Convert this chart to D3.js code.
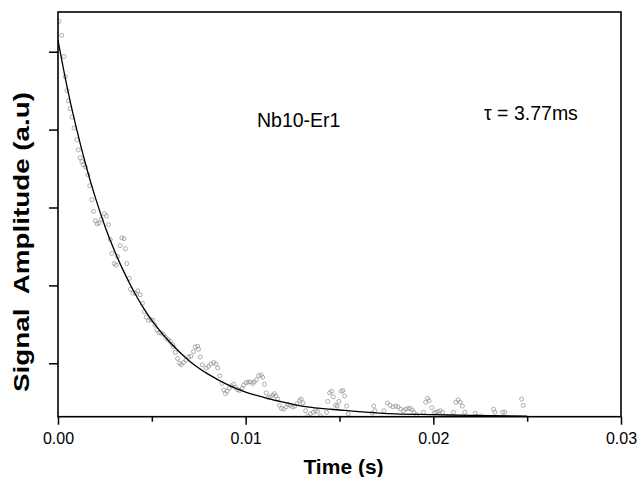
<!DOCTYPE html>
<html>
<head>
<meta charset="utf-8">
<script src="https://cdn.jsdelivr.net/npm/d3@7"></script>
<style>
  body { margin: 0; background: #fff; }
  text { font-family: "Liberation Sans", Arial, Helvetica, sans-serif; }
</style>
</head>
<body>
<div class="chart"></div>
<script>
const width = 637, height = 477;
const margin = {top: 12, right: 16, bottom: 60.3, left: 58};

// measured decay (time in ms, signal in a.u.)
const timeMs = [
  0.05, 0.20, 0.32, 0.39, 0.48, 0.56, 0.64, 0.75, 0.85, 1.00,
  1.08, 1.18, 1.27, 1.35, 1.46, 1.59, 1.69, 1.80, 1.89, 1.99,
  2.08, 2.19, 2.30, 2.47, 2.58, 2.69, 2.78, 2.87, 2.99, 3.10,
  3.18, 3.31, 3.40, 3.52, 3.59, 3.67, 3.80, 3.86, 3.99, 4.13,
  4.25, 4.38, 4.50, 4.59, 4.70, 4.82, 4.95, 5.06, 5.16, 5.27,
  5.38, 5.48, 5.62, 5.75, 5.86, 5.98, 6.10, 6.16, 6.25, 6.37,
  6.48, 6.57, 6.69, 6.82, 6.96, 7.08, 7.22, 7.31, 7.44, 7.49,
  7.58, 7.69, 7.90, 8.02, 8.15, 8.29, 8.42, 8.51, 8.62, 8.74,
  8.83, 8.92, 9.01, 9.13, 9.24, 9.36, 9.45, 9.57, 9.68, 9.81,
  9.89, 10.02, 10.13, 10.25, 10.37, 10.46, 10.57, 10.69, 10.82, 10.91,
  11.00, 11.09, 11.20, 11.32, 11.44, 11.53, 11.62, 11.71, 11.80, 11.91,
  12.03, 12.16, 12.26, 12.39, 12.51, 12.62, 12.74, 12.87, 12.96, 13.06,
  13.19, 13.31, 13.45, 13.60, 13.72, 13.84, 13.99, 14.31, 14.38, 14.47,
  14.58, 14.67, 14.79, 14.88, 14.97, 15.09, 15.18, 15.27, 15.38, 15.47,
  16.75, 16.83, 16.89, 17.37, 17.55, 17.69, 17.85, 17.99, 18.12, 18.26,
  18.40, 18.53, 18.65, 18.76, 18.88, 18.97, 19.10, 19.47, 19.59, 19.69,
  19.77, 19.92, 20.04, 20.13, 20.25, 20.36, 20.49, 21.07, 21.20, 21.32,
  21.43, 21.55, 21.68, 22.23, 22.32, 22.53, 23.21, 23.28, 23.69, 23.81,
  24.70, 24.79
];
const signal = [
  5.39, 5.21, 4.94, 4.68, 4.50, 4.37, 4.27, 4.16, 4.02, 3.87,
  3.74, 3.64, 3.59, 3.55, 3.52, 3.42, 3.28, 3.10, 2.95, 2.83,
  2.79, 2.80, 2.85, 2.92, 2.89, 2.78, 2.59, 2.41, 2.28, 2.26,
  2.37, 2.51, 2.61, 2.60, 2.47, 2.28, 2.09, 1.95, 1.90, 1.90,
  1.93, 1.88, 1.77, 1.66, 1.59, 1.55, 1.56, 1.55, 1.49, 1.43,
  1.39, 1.39, 1.37, 1.33, 1.30, 1.28, 1.24, 1.21, 1.14, 1.06,
  1.00, 0.98, 1.01, 1.04, 1.08, 1.09, 1.15, 1.21, 1.22, 1.18,
  1.08, 0.98, 0.94, 0.96, 0.99, 1.01, 0.99, 0.94, 0.84, 0.74,
  0.66, 0.61, 0.64, 0.68, 0.71, 0.73, 0.69, 0.66, 0.65, 0.68,
  0.72, 0.75, 0.76, 0.76, 0.74, 0.76, 0.79, 0.84, 0.85, 0.82,
  0.73, 0.62, 0.56, 0.57, 0.59, 0.61, 0.58, 0.54, 0.46, 0.42,
  0.41, 0.44, 0.47, 0.46, 0.44, 0.45, 0.48, 0.52, 0.54, 0.49,
  0.39, 0.32, 0.35, 0.37, 0.39, 0.38, 0.32, 0.37, 0.51, 0.62,
  0.64, 0.57, 0.46, 0.45, 0.51, 0.64, 0.65, 0.58, 0.45, 0.35,
  0.36, 0.45, 0.39, 0.39, 0.49, 0.46, 0.44, 0.45, 0.44, 0.41,
  0.39, 0.41, 0.42, 0.42, 0.40, 0.37, 0.34, 0.37, 0.50, 0.55,
  0.52, 0.43, 0.36, 0.37, 0.38, 0.39, 0.37, 0.37, 0.50, 0.53,
  0.50, 0.45, 0.37, 0.36, 0.32, 0.32, 0.41, 0.37, 0.37, 0.37,
  0.54, 0.46
];

// exponential fit line
const fitTimeMs = [0, 0.5, 1, 1.5, 2, 2.5, 3, 3.5, 4, 4.5, 5, 6, 7, 8, 9, 10,
                   11, 12, 13, 14, 15, 16, 18, 20, 22, 25];
const fitSignal = [5.15, 4.53, 4.00, 3.53, 3.12, 2.76, 2.45, 2.18, 1.94, 1.73,
                   1.55, 1.26, 1.03, 0.86, 0.73, 0.63, 0.56, 0.50, 0.45, 0.42,
                   0.40, 0.38, 0.35, 0.34, 0.33, 0.32];

const xTicks = [0, 0.01, 0.02, 0.03];
const xMinorTicks = [0.005, 0.015, 0.025];
const yTicks = [1, 2, 3, 4, 5];

const sampleName = "Nb10-Er1";
const tauLabel = "\u03c4 = 3.77ms";

const svg = d3.select(".chart")
    .append("svg")
    .attr("width", width)
    .attr("height", height);

const x = d3.scaleLinear()
    .domain([0, 0.03])
    .range([margin.left, width - margin.right]);
const y = d3.scaleLinear()
    .domain([0.314, 5.51])
    .range([height - margin.bottom, margin.top]);

svg.append("clipPath").attr("id", "plot-clip")
    .append("rect")
    .attr("x", margin.left).attr("y", margin.top)
    .attr("width", width - margin.left - margin.right)
    .attr("height", height - margin.top - margin.bottom);

const points = timeMs.map((t, i) => ({t: t / 1000, v: signal[i]}));
const fit = fitTimeMs.map((t, i) => ({t: t / 1000, v: fitSignal[i]}));

svg.append("g")
    .attr("clip-path", "url(#plot-clip)")
    .selectAll("circle")
    .data(points)
    .join("circle")
    .attr("cx", d => x(d.t))
    .attr("cy", d => y(d.v))
    .attr("r", 2)
    .attr("fill", "none")
    .attr("stroke", "#8c8c8c")
    .attr("stroke-width", 0.7);

const line = d3.line()
    .x(d => x(d.t))
    .y(d => y(d.v))
    .curve(d3.curveMonotoneX);

svg.append("path")
    .datum(fit)
    .attr("d", line)
    .attr("fill", "none")
    .attr("stroke", "#000")
    .attr("stroke-width", 1.3);

// axes
const xAxis = svg.append("g")
    .attr("transform", `translate(0,${height - margin.bottom})`)
    .call(d3.axisBottom(x).tickValues(xTicks).tickSize(8).tickSizeOuter(0)
        .tickFormat(d3.format(".2f")));
xAxis.select(".domain").remove();
xAxis.selectAll("line").attr("stroke-width", 1.5);
xAxis.selectAll("text")
    .attr("font-size", 16)
    .attr("dy", "1.05em")
    .attr("fill", "#000");

const xMinor = svg.append("g")
    .attr("transform", `translate(0,${height - margin.bottom})`)
    .call(d3.axisBottom(x).tickValues(xMinorTicks).tickSize(5).tickFormat(""));
xMinor.select(".domain").remove();
xMinor.selectAll("line").attr("stroke-width", 1.5);

const yAxis = svg.append("g")
    .attr("transform", `translate(${margin.left},0)`)
    .call(d3.axisLeft(y).tickValues(yTicks).tickSize(9).tickFormat(""));
yAxis.select(".domain").remove();
yAxis.selectAll("line").attr("stroke-width", 1.5);

// frame
svg.append("rect")
    .attr("x", margin.left)
    .attr("y", margin.top)
    .attr("width", width - margin.left - margin.right)
    .attr("height", height - margin.top - margin.bottom)
    .attr("fill", "none")
    .attr("stroke", "#000")
    .attr("stroke-width", 1.6);

// titles
svg.append("text")
    .attr("x", (margin.left + width - margin.right) / 2 + 4)
    .attr("y", 474)
    .attr("text-anchor", "middle")
    .attr("font-size", 21)
    .attr("font-weight", "bold")
    .text("Time (s)");

svg.append("text")
    .attr("transform", "translate(29,242) rotate(-90)")
    .attr("text-anchor", "middle")
    .attr("font-size", 22)
    .attr("font-weight", "bold")
    .attr("textLength", 300)
    .attr("lengthAdjust", "spacingAndGlyphs")
    .style("white-space", "pre")
    .text("Signal  Amplitude (a.u)");

svg.append("text")
    .attr("x", 257)
    .attr("y", 126.5)
    .attr("font-size", 19.5)
    .text(sampleName);

svg.append("text")
    .attr("x", 484)
    .attr("y", 120)
    .attr("font-size", 19.5)
    .text(tauLabel);
</script>
</body>
</html>
